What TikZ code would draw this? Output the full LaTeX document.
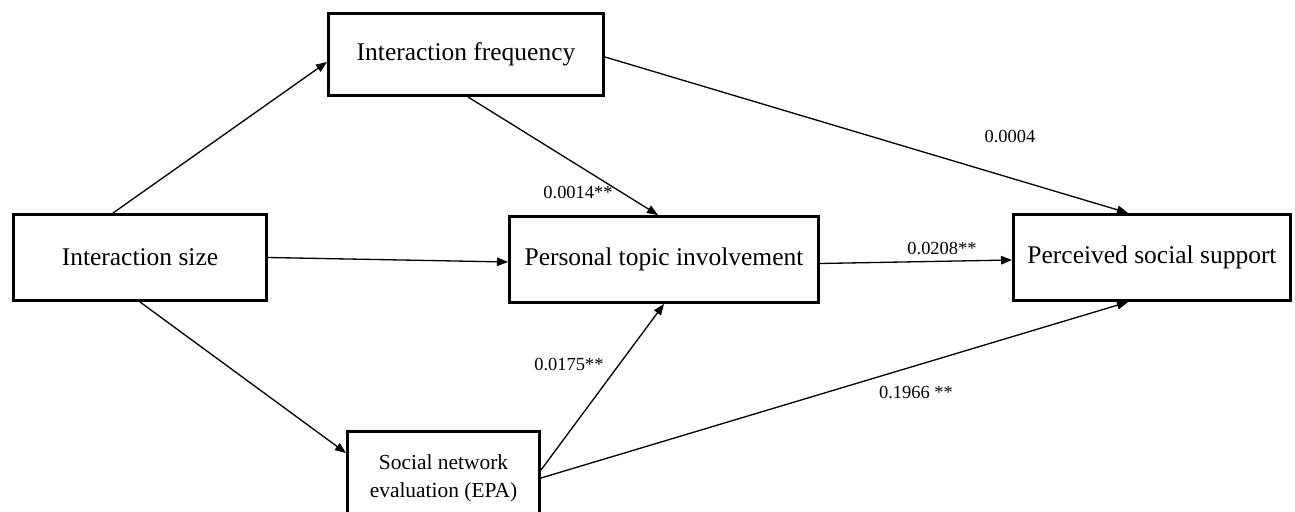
\documentclass[tikz,border=0pt]{standalone}
\usepackage{fontspec}
\setmainfont{Liberation Serif}
\usetikzlibrary{arrows.meta,positioning}
\definecolor{ink}{HTML}{000000}
\tikzset{
  path/.style={-{Triangle[length=2.2mm,width=1.7mm]},draw=ink,line width=.75pt},
  var/.style={rectangle,draw=ink,line width=1.7pt,fill=white,align=center,
    inner sep=2pt,font=\fontsize{14.5}{17}\selectfont,minimum height=17.2mm},
  smallvar/.style={var,font=\fontsize{12.2}{15.9}\selectfont},
  coef/.style={font=\fontsize{10.5}{12}\selectfont,inner sep=0pt},
}

\begin{document}
\begin{tikzpicture}[x=.2mm,y=-.2mm]
\useasboundingbox (0,0) rectangle (1295,512);
% variables
\node[var,minimum width=50.6mm] (size) at (140,257.5) {Interaction size};
\node[var,minimum width=55mm,minimum height=16.4mm] (freq) at (466,54.5) {Interaction frequency};
\node[var,minimum width=61.8mm] (involve) at (664,259.5) {Personal topic involvement};
\node[var,minimum width=55.4mm] (support) at (1152,257.5) {Perceived social support};
\node[smallvar,minimum width=38.4mm,minimum height=18.6mm] (epa) at (443.5,478) {Social network\\evaluation (EPA)};
% paths
\draw[path] ([xshift=-5.4mm]size.north) -- ([yshift=-1.5mm]freq.west);
\draw[path] (size.east) -- ([yshift=-.5mm]involve.west);
\draw[path] (size.south) -- ([yshift=5mm]epa.west);
\draw[path] ([xshift=.4mm]freq.south) -- ([xshift=-1.2mm]involve.north);
\draw[path] ([yshift=-.5mm]freq.east) -- ([xshift=-4.8mm]support.north);
\draw[path] ([yshift=-.8mm]involve.east) -- ([yshift=-.5mm]support.west);
\draw[path] ([yshift=1.6mm]epa.east) -- (involve.south);
\draw[path] (epa.east) -- ([xshift=-4.8mm]support.south);
% coefficients
\node[coef] (cFreqInv) at (578,192) {0.0014**};
\node[coef] (cFreqSup) at (1010,136) {0.0004};
\node[coef] (cInvSup) at (942,248) {0.0208**};
\node[coef] (cEpaInv) at (569,364) {0.0175**};
\node[coef] (cEpaSup) at (916,392) {0.1966 **};
\end{tikzpicture}
\end{document}
